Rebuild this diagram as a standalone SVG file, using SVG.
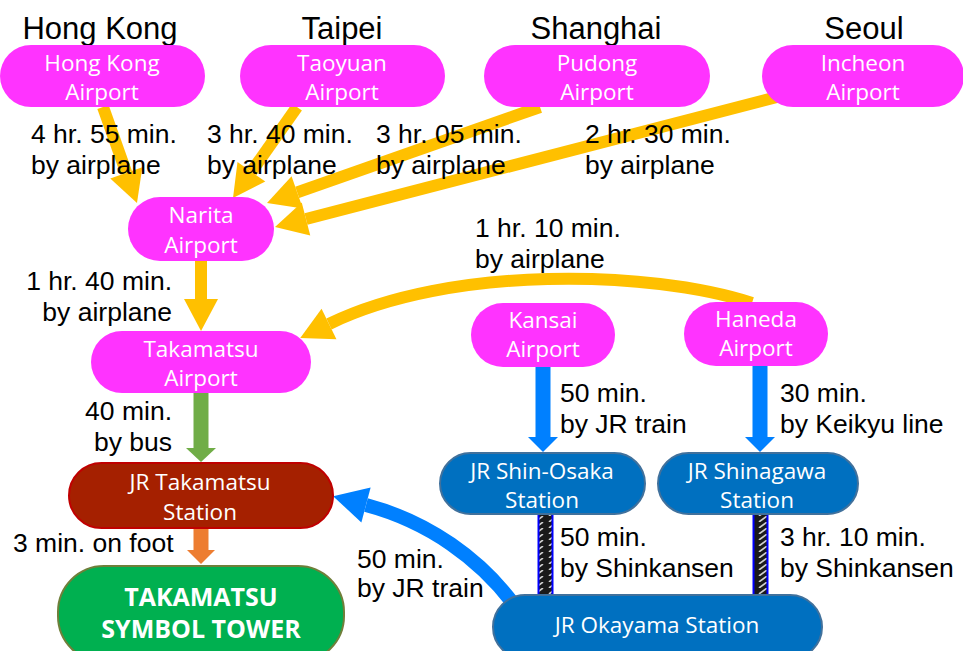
<svg xmlns="http://www.w3.org/2000/svg" width="963" height="651" viewBox="0 0 963 651">
<style>
.node-m{fill:#FF33FF}
.node-b{fill:#0070C0;stroke:#41719C;stroke-width:2}
.nt{font-family:"Open Sans","Noto Sans",sans-serif;font-size:22.5px;fill:#fff;text-anchor:middle}
.nb{font-family:"Open Sans","Noto Sans",sans-serif;font-size:25px;font-weight:bold;fill:#fff;text-anchor:middle}
.city{font-family:"Liberation Sans",Arial,sans-serif;font-size:31px;fill:#000;text-anchor:middle}
.lb{font-family:"Liberation Sans",Arial,sans-serif;font-size:26.5px;fill:#000}
.r{text-anchor:end}
.cy{fill:none;stroke:#FFC000;stroke-width:12}
.cb{fill:none;stroke:#0080FF;stroke-width:14}
</style>
<defs>
<marker id="ay" markerUnits="userSpaceOnUse" markerWidth="34" markerHeight="36" refX="0" refY="17" orient="auto" overflow="visible"><path d="M0,0 L32,17 L0,34 z" fill="#FFC000"/></marker>
<marker id="ab" markerUnits="userSpaceOnUse" markerWidth="36" markerHeight="36" refX="0" refY="18" orient="auto" overflow="visible"><path d="M0,0 L34,18 L0,36 z" fill="#0080FF"/></marker>
<marker id="abs" markerUnits="userSpaceOnUse" markerWidth="16" markerHeight="30" refX="0" refY="15" orient="auto" overflow="visible"><path d="M0,0 L15,15 L0,30 z" fill="#0080FF"/></marker>
<marker id="ag" markerUnits="userSpaceOnUse" markerWidth="16" markerHeight="30" refX="0" refY="15" orient="auto" overflow="visible"><path d="M0,0 L14,15 L0,30 z" fill="#70AD47"/></marker>
<marker id="ao" markerUnits="userSpaceOnUse" markerWidth="16" markerHeight="30" refX="0" refY="14" orient="auto" overflow="visible"><path d="M0,0 L14,14 L0,28 z" fill="#ED7D31"/></marker>
<pattern id="rail" patternUnits="userSpaceOnUse" width="14" height="6">
<rect width="14" height="6" fill="#1a1a1a"/>
<path d="M3,6 L11,0" stroke="#d0d0d0" stroke-width="1.6"/>
</pattern>
</defs>

<g id="connectors">
<path class="cy" d="M103,107 L126.3,172.8" marker-end="url(#ay)"/>
<path class="cy" d="M297,107 L251.4,171.8" marker-end="url(#ay)"/>
<path class="cy" d="M540,107 L297.2,192.4" marker-end="url(#ay)"/>
<path class="cy" d="M777,97 L306,219" marker-end="url(#ay)"/>
<path class="cy" d="M201,261 L201,299" marker-end="url(#ay)"/>
<path class="cy" d="M752,303 C650,270 450,265 329,324" marker-end="url(#ay)"/>
<path d="M201,393 L201,448" stroke="#70AD47" stroke-width="15" fill="none" marker-end="url(#ag)"/>
<path d="M201,528 L201,550" stroke="#ED7D31" stroke-width="15" fill="none" marker-end="url(#ao)"/>
<path d="M543,367 L543,437" stroke="#0080FF" stroke-width="15" fill="none" marker-end="url(#abs)"/>
<path d="M760,366 L760,437" stroke="#0080FF" stroke-width="15" fill="none" marker-end="url(#abs)"/>
<path class="cb" d="M512,602 C480,560 430,522 366,505" marker-end="url(#ab)"/>
<g id="shinkansen">
<rect x="539" y="514" width="13" height="82" fill="url(#rail)"/>
<path d="M538.5,514 V596 M552.5,514 V596" stroke="#0000FF" stroke-width="2"/>
<rect x="754" y="514" width="13" height="82" fill="url(#rail)"/>
<path d="M753.5,514 V596 M767.5,514 V596" stroke="#0000FF" stroke-width="2"/>
</g>
</g>

<g id="cities">
<text class="city" x="100" y="39">Hong Kong</text>
<text class="city" x="342" y="39">Taipei</text>
<text class="city" x="596" y="39">Shanghai</text>
<text class="city" x="864" y="39">Seoul</text>
</g>

<g id="hongkong-airport"><rect class="node-m" x="0" y="45" width="205" height="62" rx="31"/><text class="nt" x="102" y="71">Hong Kong</text><text class="nt" x="102" y="100">Airport</text></g>
<g id="taoyuan-airport"><rect class="node-m" x="240" y="45" width="205" height="62" rx="31"/><text class="nt" x="342" y="71">Taoyuan</text><text class="nt" x="342" y="100">Airport</text></g>
<g id="pudong-airport"><rect class="node-m" x="484" y="45" width="226" height="62" rx="31"/><text class="nt" x="597" y="71">Pudong</text><text class="nt" x="597" y="100">Airport</text></g>
<g id="incheon-airport"><rect class="node-m" x="762" y="45" width="202" height="62" rx="31"/><text class="nt" x="863" y="71">Incheon</text><text class="nt" x="863" y="100">Airport</text></g>
<g id="narita-airport"><rect class="node-m" x="128" y="197" width="146" height="64" rx="32"/><text class="nt" x="201" y="223">Narita</text><text class="nt" x="201" y="253">Airport</text></g>
<g id="takamatsu-airport"><rect class="node-m" x="91" y="331" width="220" height="62" rx="31"/><text class="nt" x="201" y="357">Takamatsu</text><text class="nt" x="201" y="386">Airport</text></g>
<g id="kansai-airport"><rect class="node-m" x="471" y="303" width="144" height="64" rx="32"/><text class="nt" x="543" y="328">Kansai</text><text class="nt" x="543" y="357">Airport</text></g>
<g id="haneda-airport"><rect class="node-m" x="684" y="302" width="144" height="64" rx="32"/><text class="nt" x="756" y="327">Haneda</text><text class="nt" x="756" y="356">Airport</text></g>
<g id="jr-takamatsu"><rect x="69" y="463" width="264" height="65" rx="32.5" fill="#A52000" stroke="#C00000" stroke-width="2"/><text class="nt" x="200" y="490">JR Takamatsu</text><text class="nt" x="200" y="520">Station</text></g>
<g id="jr-shin-osaka"><rect class="node-b" x="440" y="453" width="205" height="61" rx="30.5"/><text class="nt" x="542" y="479">JR Shin-Osaka</text><text class="nt" x="542" y="508">Station</text></g>
<g id="jr-shinagawa"><rect class="node-b" x="658" y="453" width="200" height="61" rx="30.5"/><text class="nt" x="757" y="479">JR Shinagawa</text><text class="nt" x="757" y="508">Station</text></g>
<g id="jr-okayama"><rect class="node-b" x="493" y="595" width="329" height="64" rx="32"/><text class="nt" x="657" y="633">JR Okayama Station</text></g>
<g id="symbol-tower"><rect x="58" y="566" width="286" height="96" rx="46" fill="#00B050" stroke="#6F7F3A" stroke-width="2"/><text class="nb" x="201" y="606">TAKAMATSU</text><text class="nb" x="201" y="638">SYMBOL TOWER</text></g>

<g id="labels">
<text class="lb" x="31" y="143">4 hr. 55 min.</text><text class="lb" x="31" y="174">by airplane</text>
<text class="lb" x="207" y="143">3 hr. 40 min.</text><text class="lb" x="207" y="174">by airplane</text>
<text class="lb" x="376" y="143">3 hr. 05 min.</text><text class="lb" x="376" y="174">by airplane</text>
<text class="lb" x="585" y="143">2 hr. 30 min.</text><text class="lb" x="585" y="174">by airplane</text>
<text class="lb r" x="172" y="290">1 hr. 40 min.</text><text class="lb r" x="172" y="321">by airplane</text>
<text class="lb" x="475" y="237">1 hr. 10 min.</text><text class="lb" x="475" y="268">by airplane</text>
<text class="lb r" x="172" y="420">40 min.</text><text class="lb r" x="172" y="451">by bus</text>
<text class="lb" x="13" y="552">3 min. on foot</text>
<text class="lb" x="560" y="402">50 min.</text><text class="lb" x="560" y="433">by JR train</text>
<text class="lb" x="780" y="402">30 min.</text><text class="lb" x="780" y="433">by Keikyu line</text>
<text class="lb" x="560" y="546">50 min.</text><text class="lb" x="560" y="577">by Shinkansen</text>
<text class="lb" x="780" y="546">3 hr. 10 min.</text><text class="lb" x="780" y="577">by Shinkansen</text>
<text class="lb" x="357" y="568">50 min.</text><text class="lb" x="357" y="597">by JR train</text>
</g>
</svg>
